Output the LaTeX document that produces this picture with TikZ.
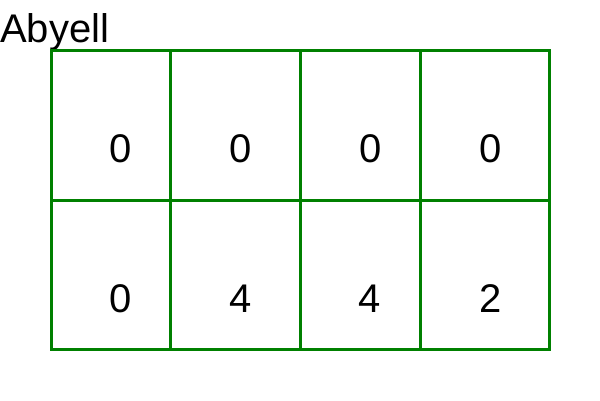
\documentclass[tikz,border=0pt]{standalone}
\usepackage{fontspec}
\setmainfont{Liberation Sans}
\usepackage{tikz}
\usetikzlibrary{positioning}
\definecolor{gridgreen}{RGB}{0,128,0}

\begin{document}
\begin{tikzpicture}[
  x=1pt, y=-1pt,
  gridline/.style={draw=gridgreen, line width=3pt},
  digit/.style={anchor=base, inner sep=0pt, font=\fontsize{40}{48}\selectfont},
  title/.style={anchor=base west, inner sep=0pt, font=\fontsize{40}{48}\selectfont}
]
\useasboundingbox (0,0) rectangle (600,400);

% --- Titel ---
\node[title] (abyell) at (0,42) {Abyell};

% --- Gitter ---
\coordinate (nw) at (51,50);
\coordinate (se) at (549,349);
\draw[gridline] (nw) rectangle (se);
\draw[gridline] (51,200) -- (549,200);
\draw[gridline] (170,50) -- (170,349);
\draw[gridline] (300,50) -- (300,349);
\draw[gridline] (420,50) -- (420,349);

% --- obere Reihe ---
\node[digit] (a1) at (121,162) {0};
\node[digit] (a2) at (241,162) {0};
\node[digit] (a3) at (371,162) {0};
\node[digit] (a4) at (491,162) {0};

% --- untere Reihe ---
\node[digit] (b1) at (121,312) {0};
\node[digit] (b2) at (241,312) {4};
\node[digit] (b3) at (370,312) {4};
\node[digit] (b4) at (491,312) {2};
\end{tikzpicture}
\end{document}
